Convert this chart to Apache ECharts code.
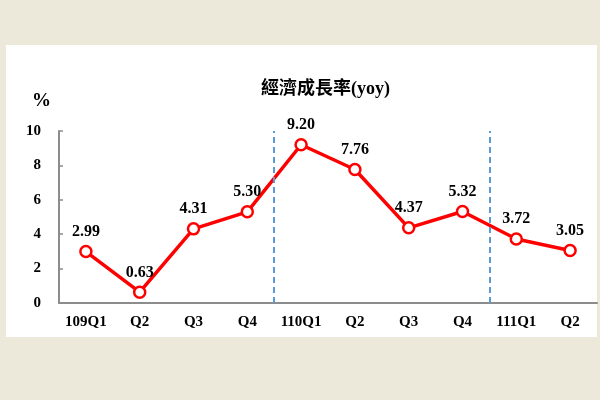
<!DOCTYPE html>
<html>
<head>
<meta charset="utf-8">
<script src="https://cdn.jsdelivr.net/npm/echarts@6/dist/echarts.min.js"></script>
<style>
  html, body { margin: 0; padding: 0; background: #ece8da; }
  #main { width: 600px; height: 400px; }
</style>
</head>
<body>
<div id="main"></div>
<script>
var quarters = ['109Q1', 'Q2', 'Q3', 'Q4', '110Q1', 'Q2', 'Q3', 'Q4', '111Q1', 'Q2'];
var growth = [2.99, 0.63, 4.31, 5.30, 9.20, 7.76, 4.37, 5.32, 3.72, 3.05];
var yearStarts = [4, 8]; // 110Q1、111Q1 前的年度分隔虛線

var chart = echarts.init(document.getElementById('main'));
var serif = '"Liberation Serif", "Noto Sans CJK TC", serif';

var option = {
    backgroundColor: '#ece8da',
    animation: false,
    title: {
        text: '經濟成長率(yoy)',
        left: 256,
        top: 75,
        textStyle: { fontFamily: serif, fontSize: 18, fontWeight: 'bold', color: '#000' }
    },
    graphic: [
        {
            type: 'rect',
            z: -10,
            shape: { x: 6, y: 45, width: 591, height: 292 },
            style: { fill: '#ffffff' }
        },
        {
            type: 'text',
            left: 32,
            top: 92,
            style: { text: '%', font: 'bold 19px ' + serif, fill: '#000' }
        }
    ],
    grid: { left: 59, top: 131, width: 538, height: 172 },
    xAxis: [
        {
            type: 'category',
            data: quarters,
            boundaryGap: true,
            axisLine: { lineStyle: { color: '#8c8c8c', width: 2 } },
            axisTick: { inside: true, length: 4, lineStyle: { color: '#8c8c8c', width: 1.5 } },
            axisLabel: { interval: 0, margin: 12, fontFamily: serif, fontSize: 15, fontWeight: 'bold', color: '#000' }
        },
        {
            // 隱藏的數值軸，只用來放分隔虛線
            type: 'value',
            min: 0,
            max: quarters.length,
            show: false
        }
    ],
    yAxis: {
        type: 'value',
        min: 0,
        max: 10,
        interval: 2,
        axisLine: { show: true, lineStyle: { color: '#8c8c8c', width: 2 } },
        axisTick: { show: true, inside: true, length: 4, lineStyle: { color: '#8c8c8c', width: 1.5 } },
        axisLabel: { margin: 18, fontFamily: serif, fontSize: 15, fontWeight: 'bold', color: '#000' },
        splitLine: { show: false }
    },
    series: [
        {
            type: 'line',
            data: growth,
            symbol: 'circle',
            symbolSize: 11,
            z: 3,
            lineStyle: { color: '#ff0000', width: 3.5 },
            itemStyle: { color: '#ffffff', borderColor: '#ff0000', borderWidth: 2.5 },
            label: {
                show: true,
                position: 'top',
                distance: 5,
                formatter: function (p) { return p.value.toFixed(2); },
                fontFamily: serif,
                fontSize: 16,
                fontWeight: 'bold',
                color: '#000'
            }
        },
        {
            type: 'line',
            xAxisIndex: 1,
            data: [],
            z: 1,
            markLine: {
                silent: true,
                symbol: 'none',
                label: { show: false },
                lineStyle: { color: '#5b9bd5', width: 2, type: [6, 4] },
                data: yearStarts.map(function (i) { return { xAxis: i }; })
            }
        }
    ]
};
chart.setOption(option);
</script>
</body>
</html>
